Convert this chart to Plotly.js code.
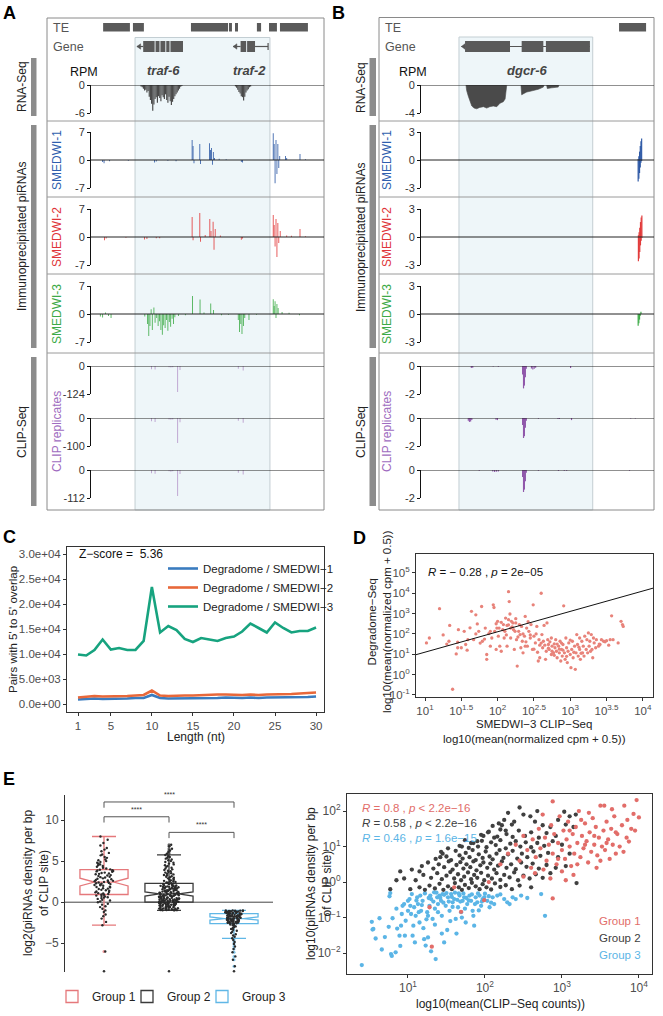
<!DOCTYPE html>
<html><head><meta charset="utf-8">
<script src="https://cdn.plot.ly/plotly-3.0.1.min.js"></script>
<style>body{margin:0;background:#fff}#chart{width:663px;height:1016px}</style>
</head><body><div id="chart"></div>
<script>
// ================= DATA =================
// Panel A genome coordinate (0-100 across track)
const aShade=[18.9,76.8];
const aTE=[[5.2,16.7],[18.0,22.7],[42.9,58.8],[59.2,60.5],[61.8,63.1],[71.2,73.0],[76.4,79.8],[81.1,93.1]];
const aExons=[[22.4,27.3],[27.7,29.4],[29.8,31.9],[32.3,33.7],[34.1,39.5],[64.2,66.6],[67.0,70.4]];
const aGeneNames=['traf-6','traf-2'];
const aGeneLabelPos=[31.0,68.0];
const aRnaPos=[21.5,22,22.5,23,23.5,24,24.5,25,25.5,26,26.5,27,27.5,28,28.5,29,29.5,30,30.5,31,31.5,32,32.5,33,33.5,34,34.5,35,35.5,36,36.5,37,37.5,38,38.5,39,62,62.5,63,63.5,64,64.5,65,65.5,66,66.5,67,67.5,68,68.5];
const aRnaVal=[-0.3,-0.5,-0.8,-1.2,-1.0,-1.6,-1.3,-2.5,-3.2,-4.0,-5.5,-4.2,-3.0,-2.6,-3.8,-2.4,-2.8,-3.5,-2.2,-2.6,-3.0,-2.0,-3.2,-3.8,-2.5,-3.5,-4.3,-3.6,-3.0,-2.4,-2.0,-1.6,-1.2,-0.8,-0.4,-0.2,-0.3,-0.6,-1.0,-1.5,-1.8,-2.4,-2.6,-3.3,-2.5,-1.6,-1.2,-0.9,-0.5,-0.3];
const aS1Pos=[5,5.6,8,16,27.3,28,33,36.5,43.4,43.8,44.2,46.7,47,50.9,51.3,51.7,52.1,52.5,53,55,58,64.5,65,78.2,78.6,79,79.4,79.8,80.2,80.6,81,83.5,84,89.7,92];
const aS1Val=[-0.5,-0.8,-0.3,-0.2,-0.6,-0.4,-0.2,-0.3,5.0,3.5,-0.8,4.0,-1.0,4.2,2.5,3.0,-1.2,2.0,0.5,0.3,0.2,-0.5,-0.6,6.7,4.0,-5.8,5.0,-3.5,4.0,-2.0,1.0,1.0,0.5,1.5,0.2];
const aS2Pos=[5.8,6.5,15,23,24,28,29.5,43.4,43.8,46.7,47,49,51,51.5,52.4,52.8,53.3,55.5,64.5,65,78.2,78.6,79,79.4,79.8,80.2,80.6,81.2,84,86,89.7,92];
const aS2Val=[-0.8,-0.4,-0.2,-0.6,-0.5,-0.3,-0.3,5.0,-0.8,6.0,-1.2,0.5,4.5,1.5,3.8,-3.2,2.0,0.4,-0.7,-0.4,5.5,3.0,-2.4,4.5,-5.0,3.5,-1.5,1.5,0.4,0.3,2.0,0.2];
const aS3Pos=[4,5,6.2,7.5,8.6,23.1,24.3,24.8,25.3,25.8,26.3,27,27.5,28.2,28.8,29.4,30,30.6,31.2,31.8,32.4,33,33.6,34.2,34.8,35.4,36,37.5,40.5,43.6,46.8,48.5,51.4,52.6,56,59,63.2,63.7,64.3,64.8,65.4,66,67.8,71,78.2,78.6,79,79.4,79.8,80.3,82,85,89.5];
const aS3Val=[-0.6,-0.9,0.4,-0.5,-1.0,-0.6,-2.5,-5.5,-3.0,1.2,-4.0,1.6,-2.2,-1.0,-3.0,-1.8,-4.0,-5.2,-2.8,-3.5,-1.5,-4.2,-2.0,-3.2,-1.2,-2.5,-0.8,-0.5,-0.3,4.5,3.6,0.4,2.6,1.0,-0.3,-0.2,-1.5,-4.5,-2.5,-5.0,-3.0,-1.0,-1.5,-0.2,3.7,2.0,3.2,-1.0,2.5,1.5,0.5,0.3,-0.3];
const aClipPos=[26.0,27.5,33.5,34.3,35.1,37.2,38.2,63.2,65.3];
const aClip1=[-14,-16,-5,-7,-5,-115,-18,-12,-20];
const aClip2=[-12,-14,-5,-6,-5,-89,-15,-10,-17];
const aClip3=[-13,-15,-5,-7,-5,-104,-16,-11,-18];

// Panel B
const bShade=[16.3,73.7];
const bTE=[[85.0,96.6]];
const bExons=[[18.9,38.2],[43.2,52.5],[53.6,72.5]];
const bGeneNames=['dgcr-6'];
const bGeneLabelPos=[45.5];
const bRnaPos=[19.3,19.6,20.3,21.0,21.8,22.8,23.9,25.2,26.8,28.2,29.5,31.0,32.5,33.9,35.3,36.1,36.8,42.9,43.2,44.2,45.4,46.8,48.2,50.4,52.5,52.8,53.9,54.2,56.1,58.9,59.2];
const bRnaVal=[0,-0.8,-1.6,-2.4,-3.0,-3.3,-3.4,-3.2,-3.1,-3.3,-3.1,-3.0,-3.1,-2.6,-2.4,-2.0,0,0,-1.4,-1.2,-1.0,-0.9,-0.8,-0.6,-0.3,0,0,-0.5,-0.4,-0.3,0];
const bS1Pos=[93.2,93.5,93.8,94.1,94.4,94.7,93.2,93.5,93.8,94.1,94.4,94.7];
const bS1Val=[-2.3,-2.0,-1.4,-0.8,-0.3,-0.1,0.1,0.4,0.9,1.5,2.0,2.3];
const bS2Pos=[93.3,93.6,93.9,94.2,94.5,94.8,93.3,93.6,93.9,94.2,94.5,94.8];
const bS2Val=[-2.6,-2.3,-1.6,-0.9,-0.4,-0.1,0.2,0.5,1.0,1.6,2.1,2.3];
const bS3Pos=[93.2,93.5,93.8,94.1,94.4];
const bS3Val=[-1.25,-1.0,-0.6,-0.2,0.25];
const bClip1Pos=[21.6,22.2,31.0,33.2,43.6,44.0,44.4,44.8,45.2,47.4,48.0,48.6,49.2,64.2];
const bClip1Val=[-0.15,-0.12,-0.04,-0.05,-0.6,-1.6,-1.4,-0.8,-0.2,-0.18,-0.25,-0.2,-0.12,-0.15];
const bClip2Pos=[20.3,20.8,21.3,21.8,32.2,32.8,43.6,44.0,44.4,44.8,45.2,50.4,58.8,59.4,64.6,90.0,92];
const bClip2Val=[-0.2,-0.28,-0.25,-0.15,-0.12,-0.15,-0.5,-1.43,-1.3,-0.7,-0.2,-0.05,-0.08,-0.07,-0.15,-0.03,-0.03];
const bClip3Pos=[25.0,30.8,31.6,32.4,33.2,43.6,44.0,44.4,44.8,45.2,50.4,59.0,61.5,62.5,89.5];
const bClip3Val=[-0.05,-0.1,-0.14,-0.12,-0.1,-0.5,-1.57,-1.4,-0.8,-0.2,-0.05,-0.06,-0.05,-0.06,-0.05];

// Panel C
const cLength=[1,2,3,4,5,6,7,8,9,10,11,12,13,14,15,16,17,18,19,20,21,22,23,24,25,26,27,28,29,30];
const cSmedwi1=[900,1000,1100,1000,1000,1000,1100,1200,1200,1800,1200,1100,1100,1100,1100,1100,1200,1200,1300,1200,1200,1300,1200,1300,1300,1300,1400,1400,1400,1500];
const cSmedwi2=[1300,1500,1600,1500,1500,1600,1600,1700,1800,2700,1700,1600,1700,1700,1700,1800,1900,1900,1900,1800,1800,1900,1800,1900,1900,2000,2000,2100,2200,2300];
const cSmedwi3=[9900,9700,10800,12900,10900,11200,10800,10800,12600,23400,14300,15600,14800,13000,12400,13200,12900,12600,13200,13500,14500,16100,15200,14300,16300,15200,14300,14600,14600,15300];
const cNames=['Degradome / SMEDWI−1','Degradome / SMEDWI−2','Degradome / SMEDWI−3'];
const cYTicks=[0,5000,10000,15000,20000,25000,30000];
const cYTickText=['0.0e+00','5.0e+03','1.0e+04','1.5e+04','2.0e+04','2.5e+04','3.0e+04'];

// Panel D (log10 values)
const dLogPairs=[[1.02,1.56],[1.06,1.80],[1.20,3.24],[1.34,2.42],[1.33,1.64],[1.43,1.02],[1.45,1.32],[1.46,2.21],[1.50,1.32],[1.54,2.13],[1.56,1.48],[1.59,1.72],[1.64,3.11],[1.70,2.94],[1.67,1.72],[1.72,2.49],[1.74,2.13],[1.78,3.35],[1.79,1.64],[1.83,2.29],[1.85,0.99],[1.85,0.75],[1.88,2.02],[1.90,2.13],[1.92,1.80],[1.94,3.43],[1.95,3.30],[1.96,2.13],[1.99,2.29],[1.98,1.24],[2.00,2.62],[2.01,1.89],[2.02,2.29],[2.03,1.40],[2.05,2.57],[2.07,2.21],[2.08,2.46],[2.09,1.80],[2.10,2.13],[2.11,2.78],[2.13,2.42],[2.13,1.40],[2.15,4.08],[2.16,3.59],[2.15,2.70],[2.17,2.98],[2.18,2.29],[2.18,1.80],[2.19,2.62],[2.21,2.54],[2.22,2.21],[2.23,1.24],[2.24,2.13],[2.25,2.54],[2.26,1.72],[2.27,0.42],[2.29,2.13],[2.30,2.46],[2.31,1.97],[2.32,1.32],[2.33,2.37],[2.34,1.64],[2.35,1.07],[2.37,1.89],[2.38,2.86],[2.39,1.61],[2.40,2.29],[2.41,1.40],[2.43,2.13],[2.45,1.80],[2.46,2.46],[2.48,1.24],[2.49,3.43],[2.50,1.89],[2.52,1.56],[2.53,2.00],[2.54,2.37],[2.56,0.67],[2.57,1.72],[2.58,0.83],[2.60,4.00],[2.61,1.97],[2.62,1.32],[2.63,1.64],[2.64,2.42],[2.65,1.45],[2.67,1.15],[2.68,2.54],[2.69,1.72],[2.70,1.48],[2.71,1.24],[2.72,1.61],[2.74,0.99],[2.74,1.80],[2.75,1.40],[2.77,1.07],[2.78,1.51],[2.79,1.32],[2.80,1.72],[2.81,1.15],[2.82,0.83],[2.84,1.40],[2.85,1.07],[2.86,1.64],[2.87,0.67],[2.88,1.24],[2.89,0.91],[2.90,1.48],[2.91,3.38],[2.92,1.07],[2.93,0.75],[2.94,1.80],[2.95,1.32],[2.96,0.59],[2.97,1.15],[2.98,1.56],[3.00,0.99],[3.01,0.34],[3.02,1.24],[3.03,1.64],[3.04,0.83],[3.06,1.40],[3.07,0.26],[3.08,1.07],[3.09,1.97],[3.10,1.48],[3.11,0.91],[3.13,1.80],[3.13,1.24],[3.14,0.75],[3.16,1.64],[3.17,1.07],[3.18,1.40],[3.19,0.91],[3.20,1.89],[3.22,1.24],[3.23,1.72],[3.24,1.07],[3.25,2.05],[3.26,1.40],[3.27,1.64],[3.29,1.97],[3.30,1.24],[3.31,0.83],[3.32,1.80],[3.33,1.56],[3.35,1.32],[3.36,1.72],[3.39,1.40],[3.41,1.48],[3.43,1.72],[3.46,1.64],[3.48,1.61],[3.50,1.67],[3.55,1.72],[3.57,2.89],[3.59,1.72],[3.66,1.56],[3.70,2.62],[3.72,2.46],[3.73,2.37],[1.38,-0.72],[1.30,1.50],[1.25,1.95],[1.62,2.30],[1.76,1.55],[1.90,1.40],[2.05,1.15],[2.20,2.35],[2.28,1.85],[2.42,2.60],[2.55,1.10],[2.66,0.75],[2.78,0.95],[2.90,1.20],[3.00,1.70],[3.12,1.35],[2.70,1.30],[2.82,1.50],[2.95,0.90],[3.05,1.10],[2.60,1.55],[2.35,2.00],[2.15,2.45],[1.98,2.50],[2.45,1.95],[2.85,1.25],[3.15,1.05],[2.75,1.15],[2.58,1.45],[2.88,1.55],[3.28,1.15],[3.40,1.50],[3.53,1.45],[1.45,1.60],[1.58,1.20],[1.70,2.00],[1.82,1.75],[2.12,1.95],[2.25,2.75],[2.38,1.40],[2.50,1.25]];
const dLineLogX=[0.876,4.14];
const dLineLogY=[0.98,4.25];
const dXTickLog=[1,1.5,2,2.5,3,3.5,4];
const dYTickLog=[-1,0,1,2,3,4,5];

// Panel E left (log2 piRNA density per group)
const eGroups=['Group 1','Group 2','Group 3'];
const eGroup1=[-2.8,-2.4,-2.0,-1.7,-1.5,-1.2,-1.0,-0.8,-0.6,-0.5,-0.3,-0.2,0,0.1,0.2,0.3,0.4,0.5,0.55,0.6,0.7,0.75,0.8,0.9,0.95,-6.0,1.0,1.05,1.1,1.2,1.25,1.3,1.4,1.45,1.5,1.6,1.65,1.7,1.8,1.85,1.9,2.0,2.05,2.1,2.15,2.2,2.25,2.3,2.35,2.4,2.45,2.5,2.55,2.6,2.65,2.7,2.8,2.85,2.9,3.0,3.05,3.1,3.2,3.25,3.3,3.4,3.45,3.5,3.55,3.6,3.7,3.75,3.8,3.85,3.9,3.95,4.0,4.1,4.2,4.3,4.4,4.5,4.6,4.7,4.8,4.9,5.0,5.1,5.2,5.4,5.5,5.7,5.8,6.0,6.2,6.4,6.6,6.9,7.2,7.6,8.0];
const eGroup2=[-1.0,-0.97,-0.99,-0.95,-0.92,-0.96,-0.9,-0.87,-0.93,-0.84,-0.81,-0.88,-0.78,-0.75,-0.8,-0.71,-0.69,-0.73,-0.64,-0.61,-0.66,-0.57,-0.55,-0.59,-0.5,-0.47,-0.52,-0.43,-0.41,-0.45,-0.36,-0.33,-0.38,-0.29,-0.27,-0.31,-0.22,-0.19,-0.24,-0.15,-0.13,-0.17,-0.1,-0.08,-0.11,-0.05,-0.03,-0.06,-0.02,-0.01,
0.01,0.04,0.02,0.07,0.09,0.05,0.12,0.15,0.11,0.18,0.2,0.16,0.24,0.27,0.22,0.3,0.33,0.29,0.36,0.39,0.35,0.42,0.45,0.41,0.48,0.5,0.47,0.54,0.57,0.53,0.6,0.63,0.59,0.66,0.69,0.65,0.72,0.75,0.71,0.78,0.81,0.77,0.84,0.87,0.83,0.9,0.93,0.89,0.96,0.99,
1.02,1.05,1.08,1.04,1.12,1.15,1.1,1.19,1.22,1.17,1.26,1.29,1.24,1.33,1.36,1.31,1.4,1.43,1.38,1.47,1.5,1.45,1.54,1.57,1.52,1.61,1.64,1.59,1.68,1.71,1.66,1.75,1.78,1.73,1.82,1.85,1.8,1.89,1.92,1.87,1.96,1.99,1.94,2.03,2.07,2.01,2.12,2.17,2.22,2.28,
2.32,2.36,2.4,2.45,2.5,2.55,2.6,2.66,2.72,2.78,2.84,2.9,2.97,3.04,3.1,3.17,3.24,3.31,3.38,3.45,3.52,3.6,3.68,3.76,3.84,3.92,4.0,4.1,4.2,4.3,4.4,4.5,4.6,4.7,4.8,4.9,5.0,5.1,5.2,5.3,5.4,5.5,5.6,5.75,5.9,6.1,6.3,6.5,6.8,7.0];
const eGroup3=[-1.0,-1.02,-1.0,-1.05,-1.03,-1.08,-1.06,-1.1,-1.12,-1.09,-1.15,-1.14,-1.18,-1.2,-1.17,-1.22,-1.25,-1.23,-1.28,-1.3,-1.27,-1.32,-1.35,-1.33,-1.38,
-1.41,-1.43,-1.46,-1.48,-1.5,-1.53,-1.55,-1.57,-1.6,-1.62,-1.64,-1.67,-1.69,-1.71,-1.74,-1.76,-1.78,-1.81,-1.83,-1.86,-1.88,-1.9,-1.93,-1.95,-1.98,
-2.01,-2.03,-2.06,-2.08,-2.1,-2.13,-2.15,-2.18,-2.2,-2.23,-2.25,-2.27,-2.3,-2.32,-2.35,-2.37,-2.4,-2.42,-2.45,-2.47,-2.5,-2.52,-2.55,-2.57,-2.59,
-2.65,-2.72,-2.8,-2.88,-2.95,-3.05,-3.15,-3.25,-3.35,-3.48,-3.6,-3.75,-3.9,-4.05,-4.2,-4.4,-4.6,-4.85,-5.1,-5.4,-5.7,-6.1,-6.6,-7.0,-7.8];
const eBottomDots=[-8.4,-8.4,-8.4];
const sigX0=[0,0,1], sigX1=[2,1,2], sigY=[12.2,10.4,8.5], sigText=['****','****','****'];

// Panel E right (log10 values)
const e3Pairs=[[0.40,-2.34],[0.53,-1.12],[0.55,-1.32],[0.58,-1.59],[0.54,-1.34],[0.63,-1.02],[0.75,-1.26],[0.76,-0.40],[0.77,-0.31],[0.78,-2.03],[0.80,-1.02],[0.79,-2.08],[0.84,-1.98],[0.86,-1.31],[0.89,-1.51],[0.91,-1.23],[0.92,-0.90],[0.93,-0.67],[0.95,-0.62],[0.96,-1.51],[0.97,-1.09],[1.00,-0.81],[1.00,-0.53],[1.02,-0.48],[1.03,-0.67],[1.04,-0.90],[1.05,-0.34],[1.06,-1.51],[1.07,-1.23],[1.08,-0.71],[1.10,-0.95],[1.12,-0.43],[1.13,-0.62],[1.15,-1.14],[1.16,-0.38],[1.17,-0.81],[1.19,-0.53],[1.21,-1.61],[1.23,-1.79],[1.25,-0.85],[1.26,-1.56],[1.28,-0.67],[1.29,-0.38],[1.30,-0.48],[1.32,-1.04],[1.34,-0.29],[1.36,-2.17],[1.38,-0.43],[1.39,-0.62],[1.39,-0.85],[1.41,-0.38],[1.43,-0.53],[1.45,-0.34],[1.47,-1.70],[1.49,-0.67],[1.52,-0.43],[1.54,-0.81],[1.56,-0.34],[1.58,-0.57],[1.60,-0.48],[1.62,-1.04],[1.65,-0.71],[1.67,-0.38],[1.69,-0.85],[1.71,-0.53],[1.73,-0.43],[1.75,-1.14],[1.77,-0.62],[1.80,-0.38],[1.82,-0.53],[1.84,-0.81],[1.86,-1.23],[1.88,-0.43],[1.90,-0.57],[1.93,-0.38],[1.95,-0.67],[1.97,-0.48],[1.99,-0.43],[2.03,-0.53],[2.06,-0.71],[2.10,-0.43],[2.12,-0.62],[2.16,-0.38],[2.25,-0.48],[2.29,-0.57],[2.36,-0.43],[2.40,-0.48],[2.47,-0.38],[2.73,-0.34],[2.78,-0.95],[1.22,-0.32],[1.27,-0.45],[1.33,-0.55],[1.37,-0.30],[1.42,-0.45],[1.46,-0.58],[1.50,-0.31],[1.53,-0.55],[1.57,-0.42],[1.61,-0.30],[1.64,-0.50],[1.68,-0.55],[1.72,-0.32],[1.76,-0.45],[1.79,-0.52],[1.83,-0.35],[1.87,-0.62],[1.91,-0.32],[1.96,-0.55],[2.00,-0.33],[2.05,-0.40],[1.18,-0.65],[1.11,-0.52],[1.14,-0.85],[1.24,-1.05],[1.35,-1.20],[1.44,-0.95],[1.51,-1.35],[1.63,-1.45],[1.55,-1.10],[1.70,-1.00],[0.85,-0.75],[0.90,-1.80],[1.09,-1.70],[1.20,-1.30],[1.30,-1.95],[1.44,-1.45],[0.70,-1.55],[0.66,-1.90],[1.58,-0.70],[1.74,-0.75],[1.85,-0.95],[1.92,-0.80],[2.08,-0.58],[2.20,-0.35],[2.32,-0.62],[2.55,-0.45],[1.35,-0.75],[1.26,-0.95],[1.47,-0.36],[1.66,-0.32]];
const e2Pairs=[[0.77,-0.20],[1.03,-0.20],[1.15,-0.15],[1.22,-0.22],[1.28,-0.10],[1.35,-0.18],[1.41,-0.05],[1.46,-0.22],[1.52,-0.12],[1.57,-0.20],[1.61,-0.03],[1.66,-0.15],[1.70,-0.22],[1.74,-0.08],[1.79,-0.17],[1.83,-0.02],[1.88,-0.12],[1.93,-0.20],[1.97,-0.06],[2.02,-0.15],[2.08,-0.21],[2.13,-0.04],[2.20,-0.14],[2.27,-0.09],[2.35,-0.20],[2.45,-0.10],[2.60,-0.15],[3.19,-0.03],
[0.95,0.10],[1.10,0.05],[1.20,0.20],[1.30,0.12],[1.38,0.25],[1.44,0.08],[1.50,0.18],[1.55,0.28],[1.60,0.10],[1.65,0.22],[1.69,0.05],[1.73,0.15],[1.78,0.27],[1.82,0.08],[1.86,0.20],[1.90,0.12],[1.95,0.26],[1.99,0.05],[2.04,0.18],[2.09,0.10],[2.15,0.25],[2.20,0.06],[2.25,0.20],[2.32,0.13],[2.38,0.27],[2.43,0.05],[2.50,0.18],[2.58,0.10],[2.66,0.22],[2.75,0.12],[2.85,0.25],
[1.05,0.35],[1.18,0.45],[1.26,0.55],[1.33,0.38],[1.40,0.50],[1.47,0.42],[1.53,0.58],[1.58,0.35],[1.63,0.48],[1.68,0.56],[1.72,0.38],[1.76,0.50],[1.81,0.42],[1.85,0.58],[1.89,0.33],[1.94,0.47],[1.98,0.55],[2.03,0.40],[2.07,0.52],[2.12,0.35],[2.17,0.46],[2.22,0.58],[2.28,0.40],[2.34,0.50],[2.40,0.36],[2.47,0.55],[2.54,0.43],[2.62,0.52],[2.70,0.38],[2.80,0.48],[2.92,0.40],[3.05,0.45],
[1.42,0.70],[1.45,0.80],[1.36,0.65],[1.43,0.85],[1.50,0.72],[1.56,0.62],[1.62,0.88],[1.67,0.75],[1.71,0.66],[1.75,0.82],[1.80,0.70],[1.84,0.90],[1.88,0.62],[1.92,0.78],[1.97,0.68],[2.01,0.86],[2.06,0.72],[2.10,0.64],[2.15,0.80],[2.19,0.90],[2.24,0.68],[2.30,0.78],[2.36,0.88],[2.42,0.66],[2.48,0.80],[2.55,0.70],[2.63,0.86],[2.72,0.74],[2.82,0.82],[2.95,0.70],[3.10,0.80],
[1.70,1.00],[1.82,1.10],[1.52,0.95],[1.90,1.15],[1.67,1.02],[1.74,1.18],[1.79,0.96],[1.85,1.10],[1.91,1.00],[1.96,1.16],[2.02,0.98],[2.08,1.12],[2.14,1.04],[2.20,1.18],[2.27,0.95],[2.33,1.08],[2.40,1.15],[2.46,1.00],[2.53,1.12],[2.60,0.98],[2.68,1.10],[2.77,1.02],[2.88,1.15],[3.00,1.05],
[1.98,1.30],[2.04,1.40],[2.16,1.28],[2.27,1.45],[1.95,1.33],[2.05,1.42],[2.12,1.25],[2.20,1.48],[2.28,1.35],[2.36,1.27],[2.44,1.45],[2.52,1.30],[2.60,1.40],[2.70,1.25],[2.80,1.38],[2.92,1.30],
[2.22,1.60],[2.38,1.70],[2.10,1.58],[2.25,1.75],[2.35,1.62],[2.45,2.10],[2.50,1.90],[2.59,1.85],[2.65,1.70],[2.75,1.60],[2.85,1.55],[2.95,1.75],[3.05,1.62],[3.10,1.85],[3.15,1.55],[3.18,1.90],[2.30,1.95],[2.68,2.00],[3.03,1.98],[2.18,1.65],[0.85,0.05],[0.90,0.30],[1.15,0.30]];
const e1Pairs=[[1.28,-0.71],[1.69,-0.84],[1.31,-1.82],[1.99,-0.51],[2.88,-0.46],[1.60,-0.15],[2.05,0.00],[2.20,0.50],[2.30,0.80],[2.40,1.05],[2.45,0.60],[2.50,1.30],[2.55,0.90],[2.60,0.40],[2.62,1.20],[2.66,0.70],[2.70,1.50],[2.72,0.95],[2.76,0.35],[2.78,1.25],[2.80,0.60],[2.83,1.05],[2.86,1.60],[2.88,0.80],[2.90,1.35],[2.93,0.50],[2.95,1.10],[2.97,1.85],[3.00,0.90],[3.02,1.45],[3.04,0.65],[3.06,1.20],[3.08,1.70],[3.10,1.00],[3.12,0.45],[3.14,1.35],[3.16,0.80],[3.18,1.55],[3.20,1.10],[3.22,2.00],[3.24,0.70],[3.26,1.30],[3.28,0.95],[3.30,1.65],[3.32,1.15],[3.34,0.55],[3.36,1.40],[3.38,0.85],[3.40,1.80],[3.42,1.05],[3.44,1.55],[3.46,0.75],[3.48,1.25],[3.50,2.15],[3.52,1.00],[3.54,1.45],[3.56,0.90],[3.58,1.70],[3.60,1.20],[3.62,0.65],[3.64,1.50],[3.66,1.05],[3.68,1.85],[3.70,0.80],[3.72,1.35],[3.75,1.00],[3.78,1.60],[3.80,0.85],[3.81,2.15],[3.84,1.25],[3.87,1.14],[3.90,1.50],[3.93,1.92],[3.97,2.31],[4.00,1.82],[2.88,2.27],[3.55,2.15],[3.00,0.30],[3.20,0.50],[3.45,0.40],[2.75,1.90],[3.35,1.95],[3.65,2.05],[3.15,0.20],[2.50,0.15],[2.85,0.10],[3.25,1.75],[3.42,1.30],[3.58,1.10],[3.10,1.45],[3.30,1.05],[2.95,0.65],[2.65,0.25],[3.05,0.05],[3.50,0.60],[3.70,1.40],[3.85,1.75],[3.95,1.45]];
const eCorrText=['<i>R</i> = 0.8 , <i>p</i> &lt; 2.2e−16','<i>R</i> = 0.58 , <i>p</i> &lt; 2.2e−16','<i>R</i> = 0.46 , <i>p</i> = 1.6e−15'];

// ================= LAYOUT HELPERS =================
const W=663,H=1016;
const px=v=>v/W, py=v=>1-v/H;
const FONT='Liberation Sans, Arial, Helvetica, sans-serif';
const layout={width:W,height:H,margin:{l:0,r:0,t:0,b:0,pad:0},paper_bgcolor:'#fff',plot_bgcolor:'rgba(0,0,0,0)',
  font:{family:FONT,size:11,color:'#333'},shapes:[],annotations:[],barmode:'overlay',boxmode:'overlay',showlegend:true};
const traces=[];
function txt(text,x,y,o={}){
  layout.annotations.push({text,xref:'paper',yref:'paper',x:px(x),y:py(y),showarrow:false,
    xanchor:o.xa||'center',yanchor:o.ya||'middle',textangle:o.ang||0,align:o.align||'center',
    font:{family:FONT,size:o.size||12,color:o.color||'#222'}});
}
function rectP(x0,y0,x1,y1,fill,line,lw){layout.shapes.push({type:'rect',xref:'paper',yref:'paper',x0:px(x0),x1:px(x1),y0:py(y1),y1:py(y0),fillcolor:fill||'rgba(0,0,0,0)',line:{color:line||'rgba(0,0,0,0)',width:lw||0}});}
function lineP(x0,y0,x1,y1,color,w){layout.shapes.push({type:'line',xref:'paper',yref:'paper',x0:px(x0),x1:px(x1),y0:py(y0),y1:py(y1),line:{color,width:w||1}});}

// ================= GENOME PANELS =================
function genomePanel(p){
  const xk=p.x==='x'?'xaxis':'xaxis'+p.x.slice(1);
  layout[xk]={domain:[px(p.axisPx),px(p.rightPx)],range:[0,100],visible:false,fixedrange:true,anchor:p.y0===1?'y':'y'+p.y0};
  layout.shapes.push({type:'rect',xref:p.x,yref:'paper',x0:p.shade[0],x1:p.shade[1],y0:py(510),y1:py(p.shadeTop),fillcolor:'#eef6f9',line:{color:'#c3ced3',width:1},layer:'below'});
  rectP(p.leftPx,p.topPx,p.rightPx,510,null,'#8a8a8a',1);
  [121,197,274,353].forEach(y=>lineP(p.leftPx,y,p.rightPx,y,'#9a9a9a',1));
  rectP(p.barX[0],58,p.barX[1],116,'#8c8c8c');
  rectP(p.barX[0],125,p.barX[1],348,'#8c8c8c');
  rectP(p.barX[0],357,p.barX[1],506,'#8c8c8c');
  txt('RNA-Seq',p.groupLabX,87,{ang:-90});
  txt('Immunoprecipitated piRNAs',p.groupLabX,237,{ang:-90});
  txt('CLIP-Seq',p.groupLabX,432,{ang:-90});
  txt('TE',p.leftPx+4,28,{xa:'left',size:12.5,color:'#555'});
  txt('Gene',p.leftPx+4,47,{xa:'left',size:12.5,color:'#555'});
  txt('RPM',p.rpmX,72,{size:12.5,color:'#111'});
  p.te.forEach(b=>layout.shapes.push({type:'rect',xref:p.x,yref:'paper',x0:b[0],x1:b[1],y0:py(31.5),y1:py(23),fillcolor:'#5a5a5a',line:{width:0}}));
  p.geneLines.forEach(g=>layout.shapes.push({type:'line',xref:p.x,yref:'paper',x0:g[0],x1:g[1],y0:py(46.5),y1:py(46.5),line:{color:'#555',width:1.2}}));
  p.arrows.forEach(t=>layout.shapes.push({type:'path',xref:p.x,yref:'paper',path:`M ${t},${py(46.5)} L ${t+1.6},${py(43.8)} L ${t+1.6},${py(49.2)} Z`,fillcolor:'#555',line:{color:'#555',width:0.5}}));
  p.exons.forEach(e=>layout.shapes.push({type:'rect',xref:p.x,yref:'paper',x0:e[0],x1:e[1],y0:py(52),y1:py(41),fillcolor:'#5a5a5a',line:{width:0}}));
  (p.endTicks||[]).forEach(t=>layout.shapes.push({type:'line',xref:p.x,yref:'paper',x0:t,x1:t,y0:py(50),y1:py(43),line:{color:'#555',width:1.2}}));
  p.geneNames.forEach((n,i)=>layout.annotations.push({text:'<b><i>'+n+'</i></b>',xref:p.x,yref:'paper',x:p.genePos[i],y:py(61),showarrow:false,font:{family:FONT,size:13,color:'#444'}}));
  p.tracks.forEach((t,i)=>{
    const n=p.y0+i, yk=n===1?'yaxis':'yaxis'+n, yr=n===1?'y':'y'+n;
    layout[yk]={domain:[py(t.bot),py(t.top)],range:t.range,anchor:p.x,tickvals:t.tv,ticktext:t.tv.map(v=>String(v)),
      ticks:'outside',ticklen:3,tickwidth:1,tickcolor:'#111',showline:true,linecolor:'#111',linewidth:1,showgrid:false,zeroline:false,
      tickfont:{family:FONT,size:11,color:'#333'},fixedrange:true};
    if(t.fill){
      traces.push({type:'scatter',x:t.pos,y:t.val,xaxis:p.x,yaxis:yr,mode:'lines',fill:'tozeroy',line:{color:t.color,width:0.6},fillcolor:t.color,showlegend:false,hoverinfo:'skip'});
    } else {
      traces.push({type:'bar',x:t.pos,y:t.val,xaxis:p.x,yaxis:yr,width:t.w,marker:{color:t.color,line:{width:0}},showlegend:false,hoverinfo:'skip'});
    }
    layout.shapes.push({type:'line',xref:p.x,yref:yr,x0:0,x1:100,y0:0,y1:0,line:{color:'#222',width:1}});
  });
  txt('SMEDWI-1',p.trackLabX,160,{ang:-90,color:'#2f5fae'});
  txt('SMEDWI-2',p.trackLabX,237,{ang:-90,color:'#e0353a'});
  txt('SMEDWI-3',p.trackLabX,314,{ang:-90,color:'#3daa48'});
  txt('CLIP replicates',p.trackLabX,432,{ang:-90,color:'#a06cc0'});
}
const BLUE='#2c58a5', RED='#e23a3a', GREEN='#3dab47';
genomePanel({x:'x',y0:1,leftPx:47,topPx:18,axisPx:91,rightPx:324,shade:aShade,shadeTop:37.5,barX:[31,36.5],groupLabX:22,trackLabX:57,rpmX:84,
  te:aTE,exons:aExons,arrows:[19.7,61.0],geneLines:[[19.7,22.4],[61.0,64.2],[70.4,76.0]],endTicks:[76.0],geneNames:aGeneNames,genePos:aGeneLabelPos,
  tracks:[
    {top:85,bot:113,range:[-6,0],tv:[0,-6],pos:aRnaPos,val:aRnaVal,color:'#4a4a4a',w:0.5},
    {top:132,bot:188,range:[-7,7],tv:[7,0,-7],pos:aS1Pos,val:aS1Val,color:BLUE,w:0.35},
    {top:209,bot:265,range:[-7,7],tv:[7,0,-7],pos:aS2Pos,val:aS2Val,color:RED,w:0.35},
    {top:286,bot:342,range:[-7,7],tv:[7,0,-7],pos:aS3Pos,val:aS3Val,color:GREEN,w:0.35},
    {top:366,bot:394,range:[-124,0],tv:[0,-124],pos:aClipPos,val:aClip1,color:'#b596ca',w:0.35},
    {top:418,bot:446,range:[-100,0],tv:[0,-100],pos:aClipPos,val:aClip2,color:'#b596ca',w:0.35},
    {top:470,bot:498,range:[-112,0],tv:[0,-112],pos:aClipPos,val:aClip3,color:'#b596ca',w:0.35}
  ]});
genomePanel({x:'x2',y0:8,leftPx:379,topPx:17.5,axisPx:421,rightPx:654,shade:bShade,shadeTop:37,barX:[369.5,376],groupLabX:361,trackLabX:387,rpmX:413,
  te:bTE,exons:bExons,arrows:[17.3],geneLines:[[17.3,72.5]],geneNames:bGeneNames,genePos:bGeneLabelPos,
  tracks:[
    {top:85,bot:113,range:[-4,0],tv:[0,-4],pos:bRnaPos,val:bRnaVal,color:'#4a4a4a',fill:true},
    {top:132,bot:188,range:[-3,3],tv:[3,0,-3],pos:bS1Pos,val:bS1Val,color:BLUE,w:0.5},
    {top:209,bot:265,range:[-3,3],tv:[3,0,-3],pos:bS2Pos,val:bS2Val,color:RED,w:0.5},
    {top:286,bot:342,range:[-3,3],tv:[3,0,-3],pos:bS3Pos,val:bS3Val,color:GREEN,w:0.5},
    {top:366,bot:394,range:[-2,0],tv:[0,-2],pos:bClip1Pos,val:bClip1Val,color:'#9058ab',w:0.5},
    {top:418,bot:446,range:[-2,0],tv:[0,-2],pos:bClip2Pos,val:bClip2Val,color:'#9058ab',w:0.5},
    {top:470,bot:498,range:[-2,0],tv:[0,-2],pos:bClip3Pos,val:bClip3Val,color:'#9058ab',w:0.5}
  ]});

// ================= PANEL C =================
const ggAxis={showline:true,mirror:true,linecolor:'#333',linewidth:1,ticks:'outside',ticklen:3,tickcolor:'#333',showgrid:false,zeroline:false,fixedrange:true,tickfont:{family:FONT,size:11.5,color:'#4d4d4d'}};
layout.xaxis3=Object.assign({},ggAxis,{domain:[px(67),px(324)],range:[-0.34,30.97],anchor:'y15',tickvals:[1,5,10,15,20,25,30]});
layout.yaxis15=Object.assign({},ggAxis,{domain:[py(712),py(547)],range:[-1600,31400],anchor:'x3',tickvals:cYTicks,ticktext:cYTickText});
const cColors=['#3a7cbf','#e8683a','#17a37f'];
[cSmedwi1,cSmedwi2,cSmedwi3].forEach((s,i)=>traces.push({type:'scatter',mode:'lines',x:cLength,y:s,xaxis:'x3',yaxis:'y15',name:cNames[i],line:{color:cColors[i],width:2.6},legend:'legend',hoverinfo:'skip'}));
layout.legend={x:px(163),y:py(554),xanchor:'left',yanchor:'top',bgcolor:'rgba(0,0,0,0)',font:{family:FONT,size:11.5,color:'#222'},tracegroupgap:0,itemclick:false};
txt('Z−score =  5.36',77,554,{xa:'left',size:12,color:'#111'});
txt('Length (nt)',196,737,{size:12,color:'#222'});
txt("Pairs with 5' to 5' overlap",13,630,{ang:-90,size:11.5,color:'#222'});

// ================= PANEL D =================
layout.xaxis4=Object.assign({},ggAxis,{type:'log',domain:[px(416),px(653)],range:[0.876,4.14],anchor:'y16',tickvals:dXTickLog.map(v=>10**v),ticktext:dXTickLog.map(v=>'10<sup>'+v+'</sup>')});
layout.yaxis16=Object.assign({},ggAxis,{type:'log',domain:[py(697),py(554)],range:[-1.1,5.93],anchor:'x4',tickvals:dYTickLog.map(v=>10**v),ticktext:dYTickLog.map(v=>'10<sup>'+v+'</sup>')});
traces.push({type:'scatter',mode:'markers',x:dLogPairs.map(p=>10**p[0]),y:dLogPairs.map(p=>10**p[1]),xaxis:'x4',yaxis:'y16',marker:{color:'#e8837a',size:3.3},showlegend:false,hoverinfo:'skip'});
traces.push({type:'scatter',mode:'lines',x:dLineLogX.map(v=>10**v),y:dLineLogY.map(v=>10**v),xaxis:'x4',yaxis:'y16',line:{color:'#111',width:1},showlegend:false,hoverinfo:'skip'});
txt('<i>R</i> = − 0.28 , <i>p</i> = 2e−05',426,572,{xa:'left',size:11.5,color:'#111'});
txt('Degradome−Seq<br>log10(mean(normalized cpm + 0.5))',379,622,{ang:-90,size:11.5,color:'#222'});
txt('SMEDWI−3 CLIP−Seq<br>log10(mean(normalized cpm + 0.5))',534,731,{size:11.5,color:'#222'});

// ================= PANEL E left =================
layout.xaxis5={domain:[px(65),px(273)],range:[-0.6,2.6],anchor:'y17',visible:false,fixedrange:true};
layout.yaxis17={domain:[py(972),py(795)],range:[-8.5,13.05],anchor:'x5',showline:true,linecolor:'#333',linewidth:1,ticks:'outside',ticklen:3,tickcolor:'#333',showgrid:false,zeroline:false,fixedrange:true,
  tickvals:[-5,0,5,10],ticktext:['−5','0','5','10'],tickfont:{family:FONT,size:12,color:'#4d4d4d'}};
layout.shapes.push({type:'line',xref:'x5',yref:'y17',x0:-0.6,x1:2.6,y0:0,y1:0,line:{color:'#444',width:1},layer:'below'});
const eColors=['#e5787b','#3b3b3b','#60b7e6'];
[eGroup1,eGroup2,eGroup3].forEach((g,i)=>{
  traces.push({type:'box',y:g,x0:i,xaxis:'x5',yaxis:'y17',name:eGroups[i],width:0.74,notched:true,notchwidth:0.3,boxpoints:'outliers',
    line:{color:eColors[i],width:1.3},fillcolor:'rgba(255,255,255,0)',marker:{color:eColors[i],size:3,opacity:0.8},legend:'legend2',hoverinfo:'skip'});
});
// spacer entry so the last legend label is not clipped
traces.push({type:'scatter',mode:'markers',x:[null],y:[null],xaxis:'x5',yaxis:'y17',name:' ',marker:{color:'rgba(0,0,0,0)',size:1,opacity:0},legend:'legend2',hoverinfo:'skip'});
[eGroup1,eGroup2,eGroup3].forEach((g,i)=>{
  traces.push({type:'box',y:g,x0:i,xaxis:'x5',yaxis:'y17',name:eGroups[i]+' pts',width:0.74,boxpoints:'all',jitter:0.42,pointpos:0,
    line:{color:'rgba(0,0,0,0)',width:0},fillcolor:'rgba(0,0,0,0)',marker:{color:'#2a2a2a',size:2.4},showlegend:false,hoverinfo:'skip'});
});
traces.push({type:'scatter',mode:'markers',x:[0,1,2],y:eBottomDots,xaxis:'x5',yaxis:'y17',marker:{color:'#333',size:2.5},cliponaxis:false,showlegend:false,hoverinfo:'skip'});
sigY.forEach((y,i)=>{
  layout.shapes.push({type:'path',xref:'x5',yref:'y17',path:`M ${sigX0[i]},${y-0.7} L ${sigX0[i]},${y} L ${sigX1[i]},${y} L ${sigX1[i]},${y-0.7}`,line:{color:'#555',width:1}});
  layout.annotations.push({text:sigText[i],xref:'x5',yref:'y17',x:(sigX0[i]+sigX1[i])/2,y:y+0.25,yanchor:'bottom',showarrow:false,font:{family:FONT,size:7,color:'#333'}});
});
layout.legend2={orientation:'h',x:px(52),y:py(982),xanchor:'left',yanchor:'top',bgcolor:'rgba(0,0,0,0)',font:{family:FONT,size:12,color:'#222'},itemclick:false,entrywidth:30,entrywidthmode:'pixels',itemwidth:30};
txt('log2(piRNAs density per bp<br>of CLIP site)',36,883,{ang:-90,size:12,color:'#222'});

// ================= PANEL E right =================
layout.xaxis6=Object.assign({},ggAxis,{type:'log',domain:[px(347),px(652)],range:[0.208,4.17],anchor:'y18',tickvals:[10,100,1000,10000],ticktext:['10<sup>1</sup>','10<sup>2</sup>','10<sup>3</sup>','10<sup>4</sup>'],tickfont:{family:FONT,size:12,color:'#4d4d4d'}});
layout.yaxis18=Object.assign({},ggAxis,{type:'log',domain:[py(974),py(794)],range:[-2.59,2.48],anchor:'x6',tickvals:[0.01,0.1,1,10,100],ticktext:['10<sup>−2</sup>','10<sup>−1</sup>','10<sup>0</sup>','10<sup>1</sup>','10<sup>2</sup>'],tickfont:{family:FONT,size:12,color:'#4d4d4d'}});
const erColors=['#e26d69','#404040','#5bb5e6'];
[[e3Pairs,2],[e2Pairs,1],[e1Pairs,0]].forEach(([pp,gi])=>traces.push({type:'scatter',mode:'markers',x:pp.map(p=>10**p[0]),y:pp.map(p=>10**p[1]),xaxis:'x6',yaxis:'y18',marker:{color:erColors[gi],size:4.3},showlegend:false,hoverinfo:'skip'}));
eCorrText.forEach((t,i)=>txt(t,360,808+15*i,{xa:'left',size:11.5,color:erColors[i]}));
eGroups.forEach((g,i)=>txt(g,643,921+17*i,{xa:'right',size:11.5,color:erColors[i]}));
txt('log10(piRNAs density per bp<br>of CLIP site)',319,884,{ang:-90,size:12,color:'#222'});
txt('log10(mean(CLIP−Seq counts))',500,1004,{size:12,color:'#222'});

[['A',9,13],['B',338,13],['C',9,537],['D',359,538],['E',9,779]].forEach(l=>txt('<b>'+l[0]+'</b>',l[1],l[2],{size:18,color:'#000'}));

Plotly.newPlot('chart',traces,layout,{displayModeBar:false,staticPlot:true});
</script></body></html>
